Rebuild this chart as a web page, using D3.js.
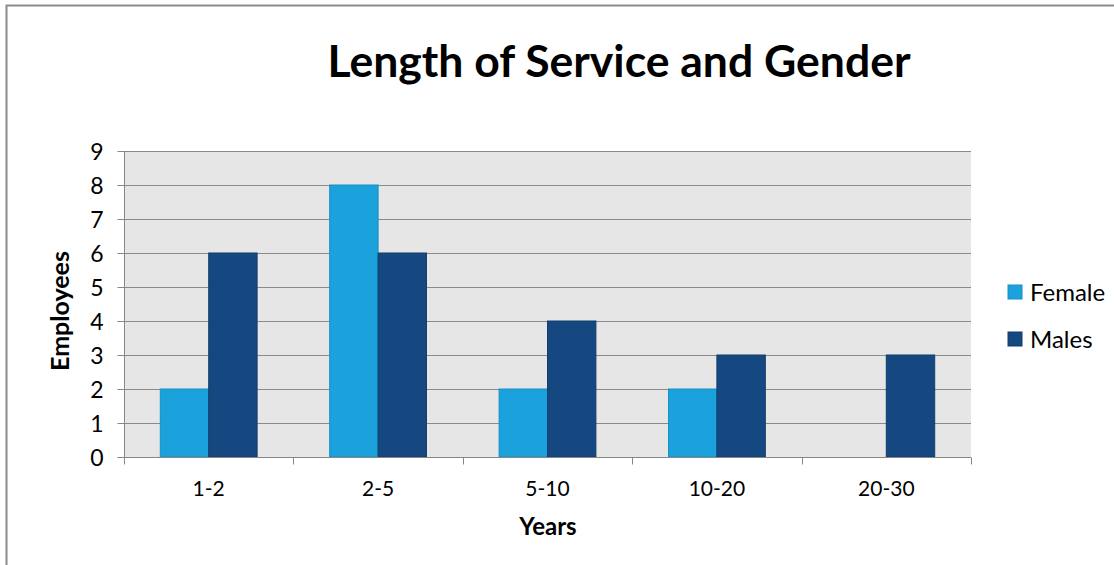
<!DOCTYPE html>
<html>
<head>
<meta charset="utf-8">
<script src="https://cdn.jsdelivr.net/npm/d3@7/dist/d3.min.js"></script>
<style>
  html, body { margin: 0; padding: 0; background: #fff; }
  svg { display: block; }
  text { font-family: Lato, "Open Sans", sans-serif; fill: #000; }
</style>
</head>
<body>
<svg id="chart" width="1114" height="565"></svg>
<script>
// Employee counts by length of service, split by gender
const categories = ["1-2", "2-5", "5-10", "10-20", "20-30"];
const seriesNames = ["Female", "Males"];
const female = [2, 8, 2, 2, 0];
const males = [6, 6, 4, 3, 3];
const yTicks = [0, 1, 2, 3, 4, 5, 6, 7, 8, 9];

const colors = { Female: "#1BA1DC", Males: "#154880" };
const strokes = { Female: "#1890C4", Males: "#123D6C" };

const svg = d3.select("#chart");
const W = 1114, H = 565;

// outer chart frame
svg.append("rect")
  .attr("x", 6.5).attr("y", 5.5)
  .attr("width", W + 10).attr("height", H + 10)
  .attr("fill", "#fff").attr("stroke", "#8c8c8c").attr("stroke-width", 2);

const plot = { left: 124, right: 971, top: 151, bottom: 457 };

const x = d3.scaleBand().domain(categories).range([plot.left, plot.right]).paddingInner(0).paddingOuter(0);
const barW = x.bandwidth() / 3.5;
const xs = d3.scaleBand().domain(seriesNames).range([0, 2 * barW]);
const y = d3.scaleLinear().domain([0, 9]).range([plot.bottom, plot.top]);

// plot area background
svg.append("rect")
  .attr("x", plot.left).attr("y", plot.top)
  .attr("width", plot.right - plot.left).attr("height", plot.bottom - plot.top)
  .attr("fill", "#E6E6E6");

// horizontal gridlines
svg.append("g").selectAll("line").data(yTicks.filter(d => d > 0)).join("line")
  .attr("x1", plot.left).attr("x2", plot.right)
  .attr("y1", d => Math.round(y(d)) + 0.5).attr("y2", d => Math.round(y(d)) + 0.5)
  .attr("stroke", "#8a8a8a").attr("stroke-width", 1);

// bars
const data = categories.map((c, i) => ({ cat: c, Female: female[i], Males: males[i] }));
const groups = svg.append("g").selectAll("g").data(data).join("g")
  .attr("transform", d => `translate(${x(d.cat) + (x.bandwidth() - 2 * barW) / 2},0)`);
groups.selectAll("rect")
  .data(d => seriesNames.map(s => ({ s, v: d[s] })).filter(e => e.v > 0))
  .join("rect")
  .attr("x", e => xs(e.s))
  .attr("y", e => y(e.v))
  .attr("width", xs.bandwidth())
  .attr("height", e => y(0) - y(e.v))
  .attr("fill", e => colors[e.s])
  .attr("stroke", e => strokes[e.s])
  .attr("stroke-width", 1);

// y axis
const yAxis = d3.axisLeft(y).tickValues(yTicks).tickSize(7).tickPadding(14).tickFormat(d3.format("d"));
const gy = svg.append("g").attr("transform", `translate(${plot.left + 0.5},0)`).call(yAxis);
gy.select(".domain").attr("stroke", "#868686").attr("d", `M0,${plot.top}V${plot.bottom + 7}`);
gy.selectAll(".tick line").attr("stroke", "#868686");
gy.selectAll(".tick text").style("font-size", "23px").attr("fill", "#000").attr("dy", "0.36em");

// x axis
const xAxis = d3.axisBottom(x).tickSize(0).tickPadding(0);
const gx = svg.append("g").attr("transform", `translate(0,${plot.bottom + 0.5})`).call(xAxis);
gx.select(".domain").attr("stroke", "#868686").attr("d", `M${plot.left},0H${plot.right}`);
gx.selectAll(".tick text").style("font-size", "21px").attr("fill", "#000").attr("y", 38).attr("dy", "0");
// category boundary ticks
const bounds = categories.map(c => x(c)).concat([plot.right]);
gx.append("g").selectAll("line").data(bounds).join("line")
  .attr("x1", d => Math.round(d) + 0.5).attr("x2", d => Math.round(d) + 0.5)
  .attr("y1", 0).attr("y2", 7)
  .attr("stroke", "#868686");

// title
svg.append("text")
  .attr("x", 619).attr("y", 77)
  .attr("text-anchor", "middle")
  .style("font-size", "44.5px").style("font-weight", "bold")
  .text("Length of Service and Gender");

// axis titles
svg.append("text")
  .attr("transform", "translate(69,311) rotate(-90)")
  .attr("text-anchor", "middle")
  .style("font-size", "25px").style("font-weight", "bold")
  .text("Employees");
svg.append("text")
  .attr("x", 548).attr("y", 535)
  .attr("text-anchor", "middle")
  .style("font-size", "24px").style("font-weight", "bold")
  .text("Years");

// legend
const legend = svg.append("g").selectAll("g").data(seriesNames).join("g")
  .attr("transform", (d, i) => `translate(1008,${285 + i * 47})`);
legend.append("rect")
  .attr("width", 14).attr("height", 14)
  .attr("fill", d => colors[d]).attr("stroke", d => strokes[d]);
legend.append("text")
  .attr("x", 22).attr("y", 7).attr("dy", "0.36em")
  .style("font-size", "24px")
  .text(d => d);
</script>
</body>
</html>
